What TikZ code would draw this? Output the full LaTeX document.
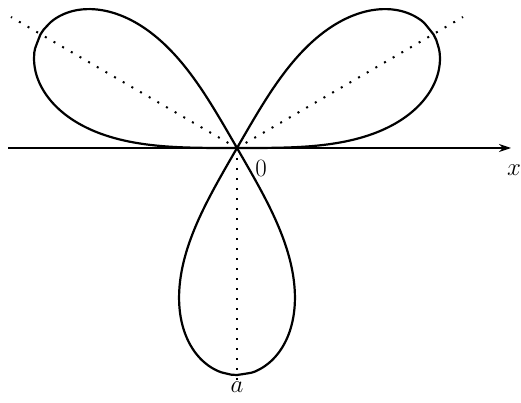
\documentclass[tikz,border=0pt]{standalone}
\usetikzlibrary{arrows.meta}
\begin{document}
\begin{tikzpicture}[x=1pt,y=1pt,
  curve/.style={line width=2.2pt, line join=round},
  axis/.style={line width=1.4pt,-{Stealth[length=12pt,width=8pt]}},
  guide/.style={dash pattern=on 2pt off 8pt, line width=2pt},
  lbl/.style={font=\fontsize{25}{30}\selectfont, inner sep=0pt}]
\useasboundingbox (0,0) rectangle (521,402);
\coordinate (O) at (237,254);
\coordinate (xl) at (8,254);
\coordinate (xr) at (511,254);
\coordinate (gl) at (11,385);
\coordinate (gr) at (463,385);
\coordinate (gd) at (237,20);
\draw[guide] (O) -- (gl);
\draw[guide] (O) -- (gr);
\draw[guide] (O) -- (gd);
\draw[axis] (xl) -- (xr);
\foreach \c in {30,150,270}{
  \draw[curve, shift={(O)}] (0,0)
    -- plot[domain=0.002:1, samples=120, smooth]
      ({\c-30+asin(pow(\x,2.3256))/3}:{227*\x})
    -- plot[domain=1:0.002, samples=120, smooth]
      ({\c+30-asin(pow(\x,2.3256))/3}:{227*\x})
    -- cycle;
}
\node[lbl] (zero) at (261,234) {$0$};
\node[lbl] (xlab) at (514,232) {$x$};
\node[lbl] (alab) at (237,15) {$a$};
\end{tikzpicture}
\end{document}
